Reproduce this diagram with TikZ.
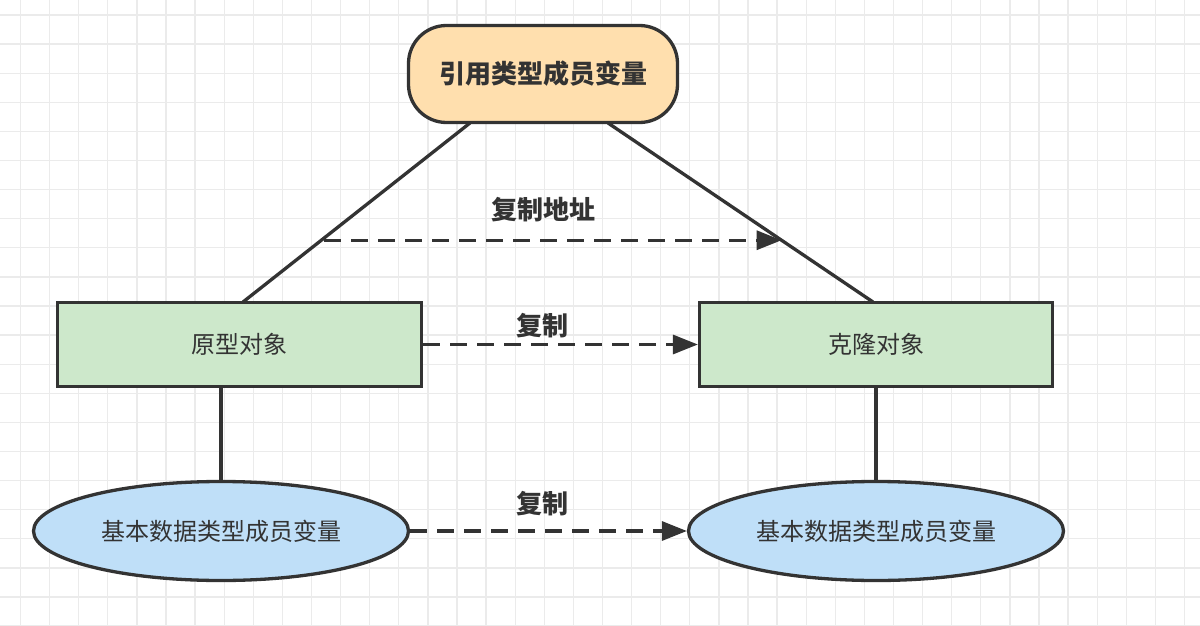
\documentclass[tikz,border=0pt]{standalone}
\usepackage{fontspec}
\setmainfont{Noto Sans CJK SC}
\usetikzlibrary{calc,shapes.geometric,arrows.meta}
\definecolor{ink}{HTML}{333333}
\definecolor{gridc}{HTML}{EBEBEB}
\definecolor{peach}{HTML}{FFDFAE}
\definecolor{mint}{HTML}{CDE8CB}
\definecolor{sky}{HTML}{BFDFF8}
\tikzset{
  box/.style={draw=ink, line width=3.3pt, fill=mint, minimum height=84pt, inner sep=0pt, text=ink, font=\fontsize{24}{28}\selectfont},
  oval/.style={ellipse, draw=ink, line width=3.3pt, fill=sky, minimum width=375pt, minimum height=99pt, inner sep=0pt, text=ink, font=\fontsize{24}{28}\selectfont},
  topbox/.style={draw=ink, line width=3.3pt, fill=peach, rounded corners=38pt, minimum width=269pt, minimum height=97pt, inner sep=0pt, text=ink, font=\fontsize{26}{30}\selectfont\bfseries},
  link/.style={draw=ink, line width=3.3pt},
  copyarrow/.style={draw=ink, line width=3.3pt, dash pattern=on 17pt off 10pt, -{Triangle[length=25pt,width=19pt]}},
  lbl/.style={text=ink, font=\fontsize{26}{30}\selectfont\bfseries, inner sep=0pt}
}
\begin{document}
\begin{tikzpicture}[x=1pt,y=-1pt]
\useasboundingbox (0,0) rectangle (1200,626);
\fill[white] (0,0) rectangle (1200,626);
\foreach \i in {0,...,41} { \draw[gridc, line width=1.3pt] (20.5+29.1*\i,0) -- (20.5+29.1*\i,626); }
\foreach \j in {0,...,21} { \draw[gridc, line width=1.3pt] (0,15+29.1*\j) -- (1200,15+29.1*\j); }

\node[topbox] (ref) at (543,74) {引用类型成员变量};
\node[box, minimum width=364pt] (proto) at (239.5,344.5) {原型对象};
\node[box, minimum width=353pt] (clone) at (876,344.5) {克隆对象};
\node[oval] (pbase) at (221,531) {基本数据类型成员变量};
\node[oval] (cbase) at (876,531) {基本数据类型成员变量};

\coordinate (refL) at (470,123);
\coordinate (refR) at (608,123);
\coordinate (protoT) at (243,302);
\coordinate (cloneT) at (873,302);

\draw[link] (refL) -- (protoT);
\draw[link] (refR) -- (cloneT);
\draw[link] (proto.south -| pbase.north) -- (pbase.north);
\draw[link] (clone.south) -- (cbase.north);

\coordinate (addrS) at ($(refL)!0.655!(protoT)$);
\coordinate (addrE) at ($(refR)!0.655!(cloneT)$);
\draw[copyarrow, shorten <=3pt] (addrS) -- (addrE);
\node[lbl] (laddr) at (543,210) {复制地址};

\draw[copyarrow] (proto.east) -- (clone.west);
\node[lbl] (lcopy1) at (542,326) {复制};

\draw[copyarrow] (pbase.east) -- (cbase.west);
\node[lbl] (lcopy2) at (542,504) {复制};
\end{tikzpicture}
\end{document}
